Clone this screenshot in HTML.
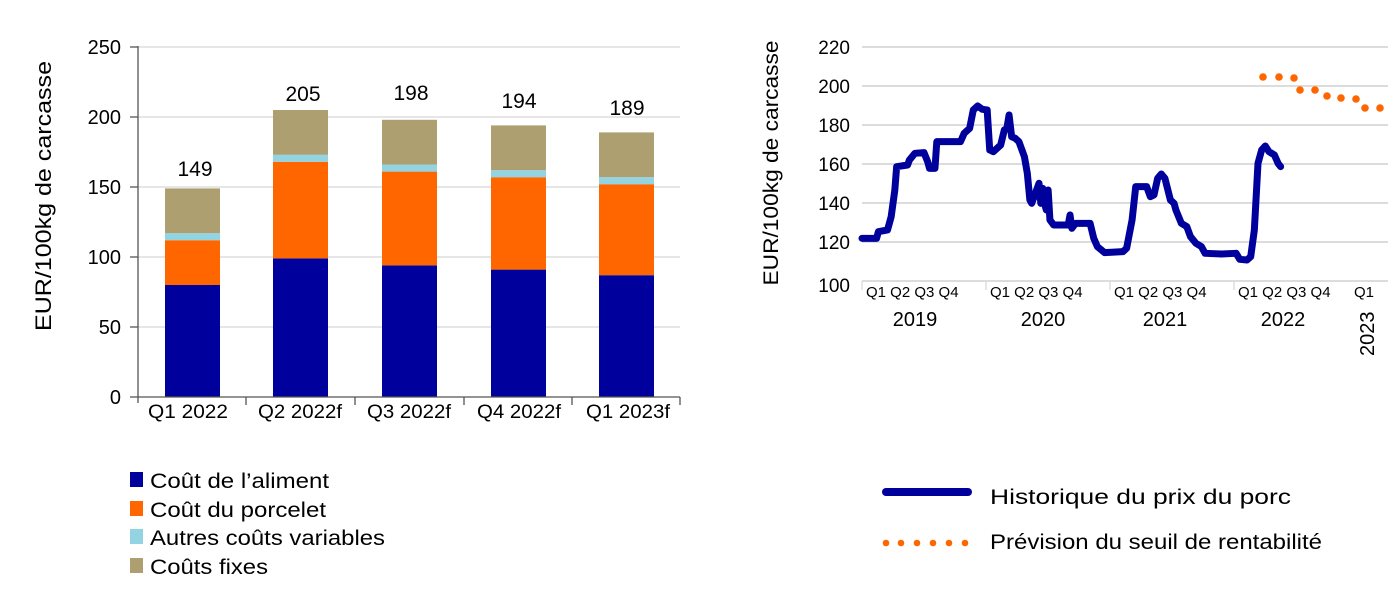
<!DOCTYPE html>
<html><head><meta charset="utf-8"><style>
html,body{margin:0;padding:0;background:#fff;width:1400px;height:610px;overflow:hidden}
svg{display:block}
text{font-family:"Liberation Sans",Arial,sans-serif;fill:#000}
</style></head><body>
<svg width="1400" height="610" viewBox="0 0 1400 610" xmlns="http://www.w3.org/2000/svg">
<!-- LEFT CHART -->
<g stroke="#e6e6e6" stroke-width="2">
<line x1="138" x2="680" y1="47" y2="47"/><line x1="138" x2="680" y1="117" y2="117"/>
<line x1="138" x2="680" y1="187" y2="187"/><line x1="138" x2="680" y1="257" y2="257"/>
<line x1="138" x2="680" y1="327" y2="327"/>
</g>
<g font-size="20" text-anchor="end">
<text x="121" y="54">250</text><text x="121" y="124">200</text><text x="121" y="194">150</text>
<text x="121" y="264">100</text><text x="121" y="334">50</text><text x="121" y="404">0</text>
</g>
<text transform="translate(51,196) rotate(-90)" font-size="22" text-anchor="middle" textLength="270" lengthAdjust="spacingAndGlyphs">EUR/100kg de carcasse</text>
<g>
<rect x="165" y="285" width="55" height="112" fill="#00009c"/>
<rect x="165" y="240.2" width="55" height="44.8" fill="#ff6600"/>
<rect x="165" y="233.2" width="55" height="7" fill="#93d4e3"/>
<rect x="165" y="188.4" width="55" height="44.8" fill="#ad9f6f"/>

<rect x="273" y="258.4" width="55" height="138.6" fill="#00009c"/>
<rect x="273" y="161.8" width="55" height="96.6" fill="#ff6600"/>
<rect x="273" y="154.8" width="55" height="7" fill="#93d4e3"/>
<rect x="273" y="110" width="55" height="44.8" fill="#ad9f6f"/>

<rect x="382" y="265.4" width="55" height="131.6" fill="#00009c"/>
<rect x="382" y="171.6" width="55" height="93.8" fill="#ff6600"/>
<rect x="382" y="164.6" width="55" height="7" fill="#93d4e3"/>
<rect x="382" y="119.8" width="55" height="44.8" fill="#ad9f6f"/>

<rect x="491" y="269.6" width="55" height="127.4" fill="#00009c"/>
<rect x="491" y="177.2" width="55" height="92.4" fill="#ff6600"/>
<rect x="491" y="170.2" width="55" height="7" fill="#93d4e3"/>
<rect x="491" y="125.4" width="55" height="44.8" fill="#ad9f6f"/>

<rect x="599" y="275.2" width="55" height="121.8" fill="#00009c"/>
<rect x="599" y="184.2" width="55" height="91" fill="#ff6600"/>
<rect x="599" y="177.2" width="55" height="7" fill="#93d4e3"/>
<rect x="599" y="132.4" width="55" height="44.8" fill="#ad9f6f"/>
</g>
<g font-size="21" text-anchor="middle">
<text x="195" y="176">149</text><text x="303" y="101">205</text><text x="411" y="100">198</text>
<text x="519" y="108">194</text><text x="627" y="115">189</text>
</g>
<g stroke="#555" stroke-width="1.3" fill="none">
<line x1="138" x2="138" y1="46" y2="403"/>
<line x1="138" x2="680" y1="397" y2="397"/>
<line x1="130" x2="138" y1="47" y2="47"/><line x1="130" x2="138" y1="117" y2="117"/>
<line x1="130" x2="138" y1="187" y2="187"/><line x1="130" x2="138" y1="257" y2="257"/>
<line x1="130" x2="138" y1="327" y2="327"/><line x1="130" x2="138" y1="397" y2="397"/>
<line x1="246" x2="246" y1="397" y2="405"/><line x1="355" x2="355" y1="397" y2="405"/>
<line x1="464" x2="464" y1="397" y2="405"/><line x1="572" x2="572" y1="397" y2="405"/>
<line x1="680" x2="680" y1="397" y2="405"/>
</g>
<g font-size="19">
<text x="148" y="418" textLength="80" lengthAdjust="spacingAndGlyphs">Q1 2022</text>
<text x="258" y="418" textLength="84" lengthAdjust="spacingAndGlyphs">Q2 2022f</text>
<text x="367" y="418" textLength="84" lengthAdjust="spacingAndGlyphs">Q3 2022f</text>
<text x="477" y="418" textLength="84" lengthAdjust="spacingAndGlyphs">Q4 2022f</text>
<text x="586" y="418" textLength="84" lengthAdjust="spacingAndGlyphs">Q1 2023f</text>
</g>
<rect x="130" y="472" width="13" height="15" fill="#00009c"/>
<rect x="130" y="501" width="13" height="15" fill="#ff6600"/>
<rect x="130" y="529" width="13" height="15" fill="#93d4e3"/>
<rect x="130" y="558" width="13" height="15" fill="#ad9f6f"/>
<g font-size="21">
<text x="150" y="488" textLength="179" lengthAdjust="spacingAndGlyphs">Coût de l’aliment</text>
<text x="150" y="517" textLength="176" lengthAdjust="spacingAndGlyphs">Coût du porcelet</text>
<text x="150" y="545" textLength="235" lengthAdjust="spacingAndGlyphs">Autres coûts variables</text>
<text x="150" y="574" textLength="118" lengthAdjust="spacingAndGlyphs">Coûts fixes</text>
</g>

<!-- RIGHT CHART -->
<g stroke="#dcdcdc" stroke-width="2">
<line x1="862" x2="1388" y1="47" y2="47"/><line x1="862" x2="1388" y1="86" y2="86"/>
<line x1="862" x2="1388" y1="125" y2="125"/><line x1="862" x2="1388" y1="164" y2="164"/>
<line x1="862" x2="1388" y1="203" y2="203"/><line x1="862" x2="1388" y1="242" y2="242"/>
<line x1="862" x2="1388" y1="281" y2="281"/>
</g>
<g stroke="#ddd" stroke-width="1.5">
<line x1="862" x2="862" y1="281" y2="290"/><line x1="986" x2="986" y1="281" y2="290"/>
<line x1="1110" x2="1110" y1="281" y2="290"/><line x1="1234" x2="1234" y1="281" y2="290"/>
</g>
<g font-size="19" text-anchor="end">
<text x="850" y="54">220</text><text x="850" y="93">200</text><text x="850" y="132">180</text>
<text x="850" y="171">160</text><text x="850" y="210">140</text><text x="850" y="249">120</text>
<text x="850" y="292">100</text>
</g>
<text transform="translate(778,163) rotate(-90)" font-size="21" text-anchor="middle" textLength="245" lengthAdjust="spacingAndGlyphs">EUR/100kg de carcasse</text>
<g font-size="15">
<text x="866" y="297">Q1 Q2 Q3 Q4</text><text x="990" y="297">Q1 Q2 Q3 Q4</text>
<text x="1114" y="297">Q1 Q2 Q3 Q4</text><text x="1238" y="297">Q1 Q2 Q3 Q4</text>
<text x="1354" y="297">Q1</text>
</g>
<g font-size="20" text-anchor="middle">
<text x="915" y="326">2019</text><text x="1043" y="326">2020</text><text x="1165" y="326">2021</text>
<text x="1283" y="326">2022</text>
</g>
<text transform="translate(1374,356) rotate(-90)" font-size="20">2023</text>
<g transform="translate(820,30) scale(0.365,0.3333)">
<polyline fill="none" stroke="#00009c" stroke-width="7" vector-effect="non-scaling-stroke" stroke-linejoin="round" stroke-linecap="round"
points="115,625 155,625 160,605 185,600 195,560 205,480 210,410 240,405 245,390 260,370 285,368 295,395 300,415 315,415 320,335 385,335 395,310 410,295 420,240 432,228 445,238 458,240 465,360 475,365 495,345 505,300 512,295 518,255 525,320 535,325 545,335 560,380 568,430 575,510 580,520 590,490 600,460 605,520 610,475 615,520 620,540 625,480 630,570 640,585 680,585 685,555 690,595 700,580 740,580 750,625 760,650 780,668 830,665 840,655 855,570 865,470 895,470 905,500 915,495 925,445 935,432 945,445 960,510 970,520 975,540 990,580 1005,590 1015,620 1030,640 1045,650 1055,670 1100,672 1140,670 1150,688 1170,690 1180,680 1190,600 1200,400 1210,360 1220,348 1230,365 1245,375 1255,400 1262,410"/>
</g>
<g fill="#ff6600">
<circle cx="1263" cy="77" r="3.8"/><circle cx="1279" cy="77" r="3.8"/><circle cx="1294" cy="78" r="3.8"/>
<circle cx="1300" cy="90" r="3.8"/><circle cx="1315" cy="90" r="3.8"/><circle cx="1327" cy="96" r="3.8"/>
<circle cx="1341" cy="98" r="3.8"/><circle cx="1356" cy="99" r="3.8"/><circle cx="1365" cy="108" r="3.8"/>
<circle cx="1380" cy="108" r="3.8"/>
</g>
<line x1="886" x2="968" y1="492" y2="492" stroke="#00009c" stroke-width="8" stroke-linecap="round"/>
<g fill="#ff6600">
<circle cx="886" cy="543" r="3.3"/><circle cx="901" cy="543" r="3.3"/><circle cx="917" cy="543" r="3.3"/>
<circle cx="933" cy="543" r="3.3"/><circle cx="949" cy="543" r="3.3"/><circle cx="965" cy="543" r="3.3"/>
</g>
<g font-size="21">
<text x="990" y="504" textLength="301" lengthAdjust="spacingAndGlyphs">Historique du prix du porc</text>
<text x="990" y="549" textLength="332" lengthAdjust="spacingAndGlyphs">Prévision du seuil de rentabilité</text>
</g>
</svg>
</body></html>
